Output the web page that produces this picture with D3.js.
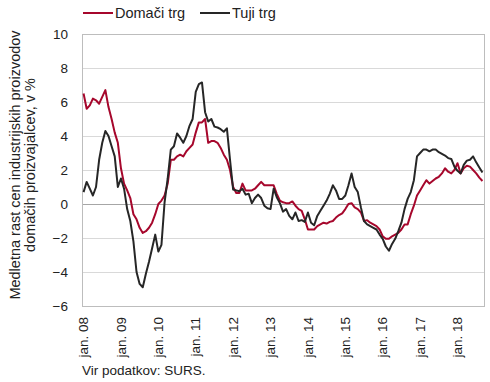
<!DOCTYPE html>
<meta charset="utf-8">
<style>
body { margin: 0; background: #fff; }
svg { font-family: "Liberation Sans", Arial, sans-serif; }
.grid line { stroke: #d9d9d9; stroke-width: 1px; }
.tick text { fill: #222; }
</style>
<body>
<div class="chart"></div>
</body>
<script src="https://d3js.org/d3.v7.min.js"></script>
<script>

// monthly, jan 2008 - sep 2018
var startYear = 2008,
    seriesNames = ["Domači trg", "Tuji trg"],
    seriesColors = ["#a6072c", "#262626"];

var domaci = [
  6.5, 5.6, 5.8, 6.2, 6.1, 5.9, 6.3, 6.7, 5.7, 5.0, 4.2, 3.6,
  2.1, 1.2, 0.8, 0.35, -0.6, -0.9, -1.4, -1.7, -1.6, -1.4, -1.1, -0.6,
  0.0, 0.2, 0.5, 1.2, 2.6, 2.6, 2.8, 2.9, 2.8, 3.1, 3.3, 3.5,
  4.2, 4.8, 4.8, 5.0, 3.6, 3.7, 3.7, 3.6, 3.3, 2.9, 2.6, 2.0,
  1.0, 0.65, 0.65, 1.2, 0.8, 0.8, 0.8, 0.9, 1.1, 1.3, 1.1, 1.1,
  1.1, 1.1, 0.6, 0.2, 0.1, 0.05, 0.05, 0.15, -0.1, -0.3, -0.4, -0.9,
  -1.5, -1.5, -1.5, -1.3, -1.2, -1.1, -1.15, -1.05, -1.0, -0.8, -0.65, -0.55,
  -0.3, 0.0, 0.05, -0.2, -0.3, -0.5, -1.0, -0.95, -1.1, -1.2, -1.3, -1.5,
  -1.9, -2.05, -2.05, -1.9, -1.8, -1.7, -1.5, -1.2, -1.2, -0.6, -0.1, 0.5,
  0.8, 1.1, 1.4, 1.2, 1.35, 1.5, 1.6, 1.8, 2.1, 1.9, 1.8, 2.0,
  2.4, 1.8, 2.1, 2.25, 2.2, 2.0, 1.8, 1.55, 1.35
];

var tuji = [
  0.7, 1.3, 0.9, 0.5, 1.0, 2.6, 3.6, 4.3, 4.0, 3.4, 2.8, 1.0,
  1.5, 0.9, -0.3, -1.0, -2.2, -4.0, -4.7, -4.9, -4.1, -3.4, -2.6, -1.8,
  -2.8, -2.4, 0.1, 1.5, 3.2, 3.4, 4.15, 3.9, 3.6, 4.0, 4.6, 5.0,
  6.6, 7.05, 7.15, 5.4, 4.85, 5.0, 4.55, 4.5, 4.4, 4.25, 4.45, 2.6,
  0.85, 0.8, 0.75, 0.9, 0.55, 0.6, 0.05, 0.35, 0.55, 0.35, -0.1, -0.25,
  -0.3, 0.9, 0.4, 0.05, -0.45, -0.3, -0.7, -0.9, -0.5, -1.0, -0.95, -1.05,
  -0.5, -1.1, -1.25, -0.7, -0.4, -0.1, 0.2, 0.6, 1.1, 0.8, 0.3, 0.3,
  0.5, 1.1, 1.8, 1.0, 0.7, -0.2, -1.0, -1.2, -1.3, -1.4, -1.5, -1.8,
  -2.05, -2.5, -2.75, -2.35, -2.05, -1.6, -1.1, -0.3, 0.3, 0.7, 1.4, 2.8,
  3.0, 3.2, 3.2, 3.1, 3.2, 3.2, 3.05, 2.95, 2.85, 2.7, 2.65, 2.2,
  1.95, 1.8, 2.3, 2.55, 2.6, 2.8, 2.45, 2.15, 1.85
];

var yTicks = [-6, -4, -2, 0, 2, 4, 6, 8, 10];
var yTitle = ["Medletna rast cen industrijskih proizvodov", "domačih proizvajalcev, v %"];
var source = "Vir podatkov: SURS.";

var w = 490,
    h = 382,
    plotL = 82,
    plotR = 484,
    plotT = 34,
    plotB = 306;

var months = d3.range(domaci.length);

var x = d3.scaleBand()
    .domain(months)
    .range([plotL, plotR])
    .padding(0);

var y = d3.scaleLinear()
    .domain([-6, 10])
    .range([plotB, plotT]);

function cx(i) {
  return x(i) + x.bandwidth() / 2;
}

var svg = d3.select(".chart").append("svg")
    .attr("width", w)
    .attr("height", h);

// grid
svg.append("g")
    .attr("class", "grid")
  .selectAll("line")
    .data(yTicks.filter(function(d) { return d !== 0 && d !== -6 && d !== 10; }))
  .enter().append("line")
    .attr("x1", plotL)
    .attr("x2", plotR)
    .attr("y1", function(d) { return Math.round(y(d)) + 0.5; })
    .attr("y2", function(d) { return Math.round(y(d)) + 0.5; });

svg.append("line")
    .attr("x1", plotL)
    .attr("x2", plotR)
    .attr("y1", Math.round(y(0)) + 0.5)
    .attr("y2", Math.round(y(0)) + 0.5)
    .style("stroke", "#a6a6a6");

// frame
svg.append("rect")
    .attr("x", plotL + 0.5)
    .attr("y", plotT + 0.5)
    .attr("width", plotR - plotL)
    .attr("height", plotB - plotT)
    .style("fill", "none")
    .style("stroke", "#bdbdbd");

// y axis
var yAxis = svg.append("g")
    .attr("transform", "translate(" + plotL + ",0)")
    .call(d3.axisLeft(y).tickValues(yTicks).tickSize(0).tickPadding(14));
yAxis.select(".domain").remove();
yAxis.selectAll("text").style("font-size", "13.5px");

// x axis, label every january
var xAxis = svg.append("g")
    .attr("transform", "translate(0," + plotB + ")")
    .call(d3.axisBottom(x)
      .tickValues(months.filter(function(d) { return d % 12 === 0; }))
      .tickSize(0)
      .tickFormat(function(d) {
        var yr = (startYear + d / 12) % 100;
        return "jan. " + (yr < 10 ? "0" : "") + yr;
      }));
xAxis.select(".domain").remove();
xAxis.selectAll("text")
    .style("font-size", "13.5px")
    .style("text-anchor", "end")
    .attr("dy", "0.35em")
    .attr("y", 0)
    .attr("x", -11)
    .attr("transform", "rotate(-90)");

// lines
var line = d3.line()
    .x(function(d, i) { return cx(i); })
    .y(function(d) { return y(d); });

var series = [domaci, tuji];

svg.selectAll("path.series")
    .data(series)
  .enter().append("path")
    .attr("class", "series")
    .attr("d", line)
    .style("fill", "none")
    .style("stroke", function(d, i) { return seriesColors[i]; })
    .style("stroke-width", 2)
    .style("stroke-linejoin", "round");

// legend
var legend = svg.selectAll("g.legend")
    .data(seriesNames)
  .enter().append("g")
    .attr("class", "legend")
    .attr("transform", function(d, i) { return "translate(" + (i === 0 ? 83 : 200) + ",13)"; });

legend.append("line")
    .attr("x1", 0)
    .attr("x2", 30)
    .style("stroke", function(d, i) { return seriesColors[i]; })
    .style("stroke-width", 2);

legend.append("text")
    .attr("x", 32)
    .attr("dy", "0.35em")
    .style("font-size", "14.5px")
    .style("fill", "#222")
    .text(function(d) { return d; });

// y title
svg.append("text")
    .attr("transform", "translate(20,165) rotate(-90)")
    .style("text-anchor", "middle")
    .style("font-size", "14.5px")
    .style("fill", "#222")
  .selectAll("tspan")
    .data(yTitle)
  .enter().append("tspan")
    .attr("x", 0)
    .attr("dy", function(d, i) { return i === 0 ? 0 : 15; })
    .text(function(d) { return d; });

svg.append("text")
    .attr("x", plotL)
    .attr("y", 375)
    .style("font-size", "13.5px")
    .style("fill", "#222")
    .text(source);

</script>
